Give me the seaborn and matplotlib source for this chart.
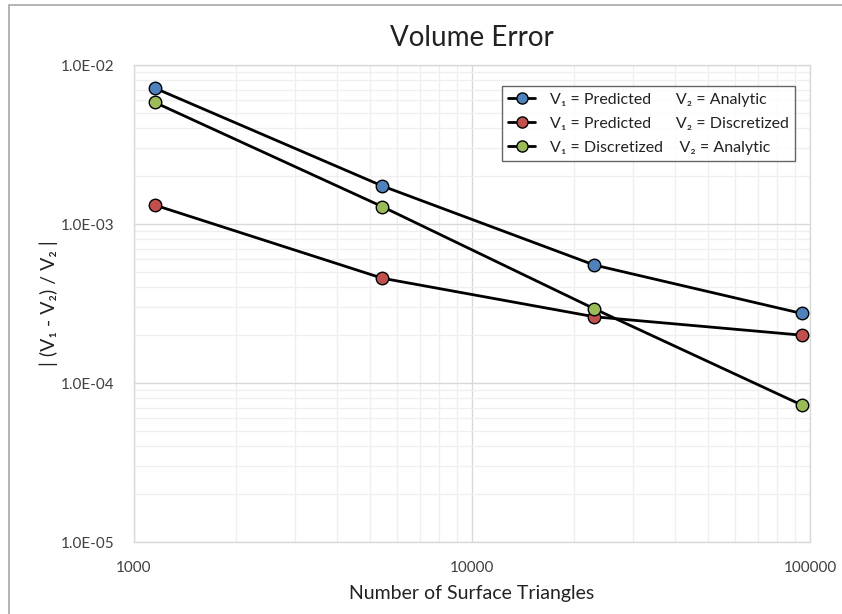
import matplotlib
matplotlib.use("Agg")
import matplotlib.pyplot as plt
import matplotlib.ticker as mticker
from matplotlib.lines import Line2D
from matplotlib.patches import Rectangle
import seaborn as sns
import pandas as pd
import numpy as np

# Data
triangles = [1150, 5430, 23000, 94400]
pred_vs_analytic = [7.17e-3, 1.734e-3, 5.52e-4, 2.74e-4]
pred_vs_discretized = [1.317e-3, 4.56e-4, 2.61e-4, 2.0e-4]
disc_vs_analytic = [5.83e-3, 1.285e-3, 2.93e-4, 7.28e-5]

series_labels = [
    "V\u2081 = Predicted      V\u2082 = Analytic",
    "V\u2081 = Predicted      V\u2082 = Discretized",
    "V\u2081 = Discretized    V\u2082 = Analytic",
]
series_colors = ["#4F81BD", "#C0504D", "#9BBB59"]

df = pd.DataFrame({
    "x": triangles * 3,
    "y": pred_vs_analytic + pred_vs_discretized + disc_vs_analytic,
    "series": [series_labels[0]] * 4 + [series_labels[1]] * 4 + [series_labels[2]] * 4,
})

sns.set_theme(style="white")
plt.rcParams['font.family'] = ['Lato', 'DejaVu Sans']

fig = plt.figure(figsize=(8.42, 6.14), dpi=100)
ax = fig.add_axes([134/842, 1 - 542/614, (810-134)/842, (542-65)/614])

ax.set_xscale("log")
ax.set_yscale("log")

# lines in black, markers coloured
for lab, col in zip(series_labels, series_colors):
    sub = df[df["series"] == lab]
    sns.lineplot(data=sub, x="x", y="y", ax=ax, color="black", linewidth=2.0,
                 marker="o", markersize=9, markerfacecolor=col,
                 markeredgecolor="black", markeredgewidth=1.0, zorder=3,
                 legend=False)

ax.set_xlim(1000, 100000)
ax.set_ylim(1e-5, 1e-2)

ax.xaxis.set_major_locator(mticker.LogLocator(base=10, numticks=10))
ax.xaxis.set_minor_locator(mticker.LogLocator(base=10, subs=np.arange(2, 10), numticks=20))
ax.yaxis.set_major_locator(mticker.LogLocator(base=10, numticks=10))
ax.yaxis.set_minor_locator(mticker.LogLocator(base=10, subs=np.arange(2, 10), numticks=20))
ax.xaxis.set_major_formatter(mticker.FuncFormatter(lambda v, p: f"{int(round(v))}"))
ax.yaxis.set_major_formatter(mticker.FuncFormatter(lambda v, p: f"{v:.1E}"))
ax.xaxis.set_minor_formatter(mticker.NullFormatter())
ax.yaxis.set_minor_formatter(mticker.NullFormatter())

ax.grid(True, which="major", color="#d9d9d9", linewidth=1.0)
ax.grid(True, which="minor", color="#efefef", linewidth=0.9)
ax.set_axisbelow(True)

for s in ax.spines.values():
    s.set_color("#d9d9d9")
    s.set_linewidth(1.0)

ax.tick_params(axis="both", which="both", length=0, labelsize=11, colors="#404040")
ax.tick_params(axis="y", pad=14)
ax.tick_params(axis="x", pad=14)

ax.set_title("Volume Error", fontsize=20, color="#222222", pad=14)
ax.set_xlabel("Number of Surface Triangles", fontsize=14, color="#222222", labelpad=7)
ax.set_ylabel("| (V\u2081 - V\u2082) / V\u2082 |", fontsize=14, color="#222222", labelpad=2)

handles = [Line2D([0], [0], color="black", linewidth=2.0, marker="o", markersize=8,
                  markerfacecolor=c, markeredgecolor="black", markeredgewidth=1.0)
           for c in series_colors]
leg = ax.legend(handles, series_labels, loc="upper right",
                bbox_to_anchor=(795/842, 1 - 86/614), bbox_transform=fig.transFigure,
                borderaxespad=0, frameon=True, fancybox=False, edgecolor="#404040",
                fontsize=11.5, handlelength=1.7, borderpad=0.4, labelspacing=0.62,
                handletextpad=0.9)
leg.get_frame().set_linewidth(1.0)
for t in leg.get_texts():
    t.set_color("#222222")

# outer chart border (left and top visible)
fig.patches.append(Rectangle((9/842, -0.1), 1.2, 1 - 5/614 + 0.1, transform=fig.transFigure,
                             fill=False, edgecolor="#a6a6a6", linewidth=1.2, clip_on=False))

fig.savefig("out.png", dpi=100)
